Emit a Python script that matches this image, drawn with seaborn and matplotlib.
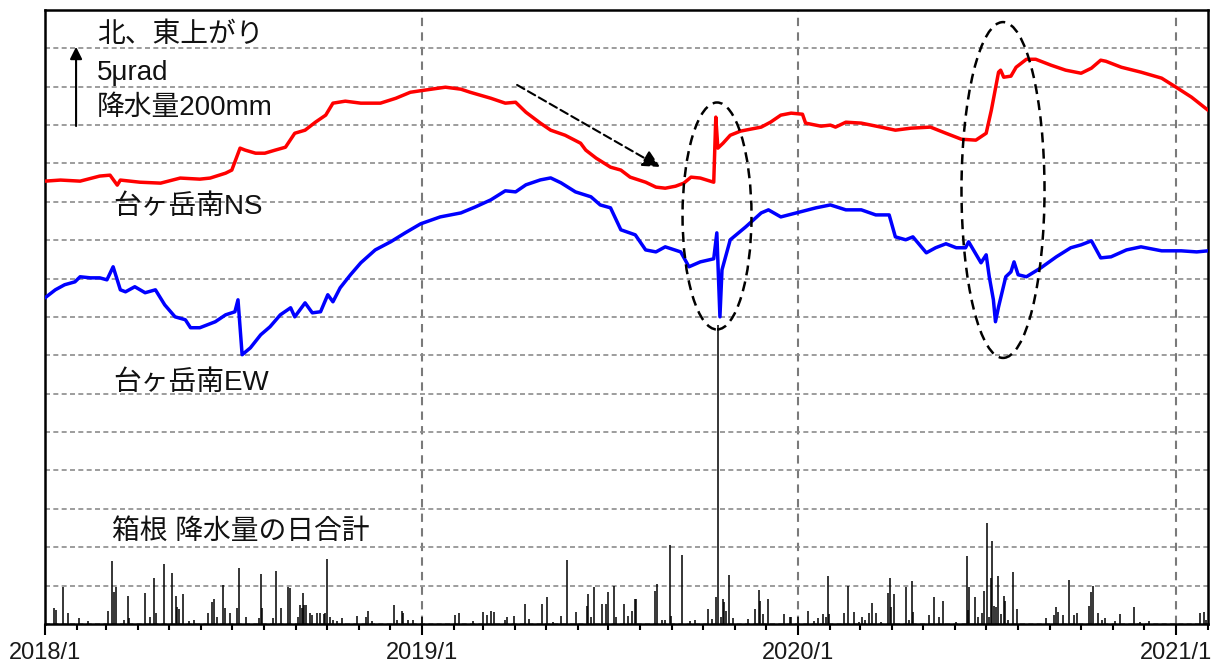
import numpy as np
import pandas as pd
import matplotlib
matplotlib.use("Agg")
import matplotlib.pyplot as plt
import matplotlib.dates as mdates
from matplotlib.patches import Ellipse
from matplotlib.ticker import FuncFormatter, MultipleLocator
import seaborn as sns

# 台ヶ岳南 NS tilt, urad relative to 2018/1/1
ns_dates = ["2018-01-01", "2018-01-16", "2018-02-04", "2018-02-23", "2018-03-05", "2018-03-12", "2018-03-15", "2018-04-03",
            "2018-04-23", "2018-05-12", "2018-05-31", "2018-06-10", "2018-06-25", "2018-07-01", "2018-07-09", "2018-07-14",
            "2018-07-24", "2018-08-02", "2018-08-12", "2018-08-22", "2018-08-31", "2018-09-10", "2018-09-20", "2018-09-30",
            "2018-10-07", "2018-10-19", "2018-11-03", "2018-11-22", "2018-12-07", "2018-12-21", "2018-12-31", "2019-01-24",
            "2019-02-08", "2019-02-17", "2019-03-09", "2019-03-23", "2019-04-02", "2019-04-12", "2019-04-26", "2019-05-06",
            "2019-05-20", "2019-06-04", "2019-06-09", "2019-06-19", "2019-07-03", "2019-07-13", "2019-07-22", "2019-08-06",
            "2019-08-16", "2019-08-25", "2019-09-04", "2019-09-12", "2019-09-19", "2019-09-28", "2019-10-11", "2019-10-13",
            "2019-10-15", "2019-10-20", "2019-10-27", "2019-11-06", "2019-11-16", "2019-11-26", "2019-12-05", "2019-12-15",
            "2019-12-25", "2020-01-05", "2020-01-08", "2020-01-23", "2020-02-01", "2020-02-06", "2020-02-16", "2020-03-02",
            "2020-03-21", "2020-04-04", "2020-04-19", "2020-05-08", "2020-05-23", "2020-06-07", "2020-06-21", "2020-07-01",
            "2020-07-06", "2020-07-13", "2020-07-15", "2020-07-18", "2020-07-25", "2020-07-30", "2020-08-09", "2020-08-18",
            "2020-09-02", "2020-09-16", "2020-10-01", "2020-10-11", "2020-10-20", "2020-10-25", "2020-11-09", "2020-11-28",
            "2020-12-18", "2021-01-01", "2021-01-16", "2021-02-01"]
ns_urad = [0.00, 0.07, 0.00, 0.33, 0.39, -0.26, 0.07, -0.07,
           -0.13, 0.20, 0.13, 0.20, 0.52, 0.72, 2.15, 2.02,
           1.82, 1.82, 2.02, 2.21, 3.12, 3.32, 3.84, 4.30,
           5.08, 5.21, 5.08, 5.08, 5.40, 5.79, 5.89, 6.12,
           5.99, 5.79, 5.40, 5.08, 5.14, 4.49, 3.78, 3.32,
           2.99, 2.47, 2.02, 1.50, 0.91, 0.72, 0.26, -0.07,
           -0.39, -0.46, -0.33, -0.13, 0.26, 0.20, -0.07, 4.17,
           2.15, 2.47, 2.99, 3.26, 3.39, 3.52, 3.84, 4.30,
           4.43, 4.36, 3.78, 3.58, 3.65, 3.52, 3.84, 3.78,
           3.52, 3.32, 3.45, 3.52, 3.12, 2.73, 2.67, 3.12,
           4.62, 7.10, 7.23, 6.77, 6.84, 7.42, 7.94, 7.94,
           7.55, 7.23, 7.03, 7.36, 7.88, 7.81, 7.42, 7.10,
           6.71, 6.12, 5.47, 4.62]

# 台ヶ岳南 EW tilt, urad relative to 2018/1/1
ew_dates = ["2018-01-01", "2018-01-11", "2018-01-20", "2018-01-30", "2018-02-04", "2018-02-14", "2018-02-23", "2018-03-02",
            "2018-03-08", "2018-03-15", "2018-03-20", "2018-03-29", "2018-04-08", "2018-04-18", "2018-04-27", "2018-05-07",
            "2018-05-17", "2018-05-22", "2018-05-31", "2018-06-15", "2018-06-25", "2018-07-04", "2018-07-07", "2018-07-11",
            "2018-07-19", "2018-07-29", "2018-08-07", "2018-08-17", "2018-08-27", "2018-08-31", "2018-09-10", "2018-09-17",
            "2018-09-25", "2018-10-02", "2018-10-07", "2018-10-14", "2018-10-24", "2018-11-03", "2018-11-17", "2018-12-02",
            "2018-12-16", "2018-12-31", "2019-01-19", "2019-02-08", "2019-02-22", "2019-03-09", "2019-03-23", "2019-04-02",
            "2019-04-12", "2019-04-26", "2019-05-06", "2019-05-16", "2019-05-30", "2019-06-14", "2019-06-23", "2019-07-03",
            "2019-07-13", "2019-07-27", "2019-08-06", "2019-08-16", "2019-08-25", "2019-09-09", "2019-09-17", "2019-09-28",
            "2019-10-11", "2019-10-14", "2019-10-17", "2019-10-19", "2019-10-27", "2019-11-11", "2019-11-26", "2019-12-03",
            "2019-12-15", "2020-01-03", "2020-01-18", "2020-02-01", "2020-02-16", "2020-03-02", "2020-03-16", "2020-03-29",
            "2020-04-04", "2020-04-14", "2020-04-21", "2020-05-04", "2020-05-13", "2020-05-23", "2020-06-02", "2020-06-11",
            "2020-06-14", "2020-06-26", "2020-07-01", "2020-07-04", "2020-07-08", "2020-07-10", "2020-07-13", "2020-07-20",
            "2020-07-25", "2020-07-28", "2020-08-01", "2020-08-09", "2020-08-23", "2020-09-07", "2020-09-21", "2020-10-01",
            "2020-10-11", "2020-10-20", "2020-10-30", "2020-11-14", "2020-11-28", "2020-12-18", "2021-01-06", "2021-01-21",
            "2021-02-01"]
ew_urad = [0.00, 0.52, 0.85, 1.04, 1.37, 1.30, 1.30, 1.17,
           2.02, 0.52, 0.39, 0.72, 0.33, 0.52, -0.46, -1.24,
           -1.43, -1.95, -1.95, -1.56, -1.11, -0.91, -0.13, -3.71,
           -3.26, -2.41, -1.89, -1.11, -0.65, -1.24, -0.33, -0.98,
           -0.91, 0.20, -0.26, 0.65, 1.50, 2.28, 3.12, 3.65,
           4.23, 4.82, 5.27, 5.53, 5.92, 6.38, 6.97, 6.90,
           7.36, 7.68, 7.81, 7.49, 6.90, 6.58, 6.05, 5.86,
           4.43, 4.10, 3.12, 2.99, 3.32, 2.99, 2.02, 2.34,
           2.54, 4.23, -1.24, 1.82, 3.78, 4.62, 5.53, 5.73,
           5.27, 5.60, 5.86, 6.05, 5.73, 5.73, 5.40, 5.40,
           3.97, 3.78, 3.97, 2.93, 3.26, 3.52, 3.26, 3.26,
           3.65, 2.28, 2.80, 1.37, -0.13, -1.56, -0.59, 1.37,
           1.69, 2.34, 1.50, 1.37, 1.95, 2.67, 3.26, 3.45,
           3.71, 2.60, 2.67, 3.12, 3.32, 3.06, 3.06, 2.99,
           3.06]

# 箱根 daily precipitation, mm
rain_dates = ["2018-01-10", "2018-01-12", "2018-01-18", "2018-01-23", "2018-02-03", "2018-02-12", "2018-03-03", "2018-03-07",
              "2018-03-09", "2018-03-11", "2018-03-19", "2018-03-22", "2018-03-23", "2018-04-08", "2018-04-13", "2018-04-17",
              "2018-04-19", "2018-04-26", "2018-05-04", "2018-05-08", "2018-05-09", "2018-05-11", "2018-05-15", "2018-05-21",
              "2018-05-25", "2018-06-08", "2018-06-12", "2018-06-14", "2018-06-17", "2018-06-22", "2018-06-24", "2018-06-29",
              "2018-07-06", "2018-07-08", "2018-07-15", "2018-07-27", "2018-07-29", "2018-07-30", "2018-08-10", "2018-08-13",
              "2018-08-18", "2018-08-24", "2018-08-26", "2018-09-03", "2018-09-05", "2018-09-07", "2018-09-08", "2018-09-09",
              "2018-09-11", "2018-09-15", "2018-09-17", "2018-09-22", "2018-09-24", "2018-09-28", "2018-09-29", "2018-10-01",
              "2018-10-04", "2018-10-07", "2018-10-11", "2018-10-16", "2018-10-30", "2018-11-08", "2018-11-10", "2018-11-14",
              "2018-12-05", "2018-12-08", "2018-12-13", "2018-12-14", "2018-12-19", "2018-12-24",
              "2019-01-01", "2019-02-02", "2019-02-06", "2019-02-20", "2019-03-01", "2019-03-05", "2019-03-09", "2019-03-12",
              "2019-03-23", "2019-03-25", "2019-03-31", "2019-04-11", "2019-04-15", "2019-04-28", "2019-05-02", "2019-05-08",
              "2019-05-16", "2019-05-22", "2019-05-31", "2019-06-10", "2019-06-11", "2019-06-14", "2019-06-17", "2019-06-25",
              "2019-06-29", "2019-07-01", "2019-07-06", "2019-07-08", "2019-07-16", "2019-07-20", "2019-07-24", "2019-07-27",
              "2019-07-28", "2019-08-15", "2019-08-17", "2019-08-22", "2019-08-25", "2019-08-30", "2019-08-31", "2019-09-10",
              "2019-09-18", "2019-09-23", "2019-10-05", "2019-10-09", "2019-10-13", "2019-10-15", "2019-10-18", "2019-10-20",
              "2019-10-21", "2019-10-23", "2019-10-26", "2019-10-30", "2019-11-13", "2019-11-20", "2019-11-24", "2019-11-25",
              "2019-11-28", "2019-12-03", "2019-12-18", "2019-12-24", "2019-12-25",
              "2020-01-01", "2020-01-10", "2020-01-16", "2020-01-20", "2020-01-25", "2020-01-28", "2020-01-30", "2020-01-31",
              "2020-02-14", "2020-02-18", "2020-02-24", "2020-02-29", "2020-03-03", "2020-03-06", "2020-03-09", "2020-03-12",
              "2020-03-16", "2020-03-21", "2020-03-28", "2020-03-30", "2020-03-31", "2020-04-03", "2020-04-14", "2020-04-17",
              "2020-04-20", "2020-04-21", "2020-05-07", "2020-05-11", "2020-05-16", "2020-05-20", "2020-06-02", "2020-06-12",
              "2020-06-13", "2020-06-14", "2020-06-20", "2020-06-23", "2020-06-27", "2020-06-29", "2020-07-02", "2020-07-04",
              "2020-07-06", "2020-07-07", "2020-07-09", "2020-07-11", "2020-07-12", "2020-07-15", "2020-07-18", "2020-07-19",
              "2020-07-22", "2020-07-27", "2020-07-31", "2020-08-28", "2020-09-05", "2020-09-07", "2020-09-09", "2020-09-13",
              "2020-09-19", "2020-09-24", "2020-09-27", "2020-10-09", "2020-10-11", "2020-10-13", "2020-10-17", "2020-10-21",
              "2020-10-24", "2020-11-03", "2020-11-08", "2020-11-21", "2020-11-27", "2020-12-06",
              "2021-01-24", "2021-01-28", "2021-01-30"]
rain_mm = [42, 36, 96, 28, 15, 8, 35, 165,
           84, 97, 10, 74, 15, 82, 18, 119,
           28, 155, 132, 74, 45, 40, 78, 8,
           10, 28, 58, 65, 18, 101, 42, 28,
           42, 145, 18, 15, 129, 42, 15, 139,
           42, 96, 95, 18, 49, 42, 82, 49,
           50, 28, 23, 28, 28, 25, 28, 169,
           18, 10, 8, 15, 20, 18, 35, 8,
           49, 10, 35, 28, 10, 10,
           19, 23, 29, 8, 30, 23, 35, 32,
           10, 17, 20, 51, 12, 51, 71, 5,
           20, 167, 30, 47, 77, 17, 96, 51,
           51, 84, 100, 19, 51, 20, 35, 65,
           65, 87, 104, 10, 10, 206, 20, 180,
           8, 10, 39, 12, 71, 780, 19, 64,
           58, 33, 128, 15, 12, 38, 88, 60,
           26, 65, 25, 17, 17,
           19, 34, 9, 15, 25, 19, 125, 25,
           28, 100, 30, 6, 17, 10, 28, 54,
           28, 4, 82, 119, 45, 77, 97, 10,
           112, 30, 23, 69, 19, 61, 6, 178,
           36, 97, 69, 19, 28, 87, 262, 19,
           121, 216, 48, 43, 125, 25, 72, 60,
           10, 135, 38, 15, 23, 45, 30, 23,
           115, 23, 28, 46, 84, 98, 28, 10,
           15, 8, 25, 45, 4, 8,
           28, 32, 10]

# 5 urad on the tilt scale = 200 mm on the rain scale
MM_PER_URAD = 40
NS_BASE = 1154
EW_BASE = 850

ns = pd.DataFrame({"date": pd.to_datetime(ns_dates), "y": NS_BASE + np.array(ns_urad) * MM_PER_URAD})
ew = pd.DataFrame({"date": pd.to_datetime(ew_dates), "y": EW_BASE + np.array(ew_urad) * MM_PER_URAD})
rain = pd.DataFrame({"date": pd.to_datetime(rain_dates), "mm": rain_mm})

sns.set_theme(style="ticks")
plt.rcParams["font.family"] = ["Liberation Sans", "Noto Sans CJK JP", "DejaVu Sans"]

fig = plt.figure(figsize=(12.2, 6.66), dpi=100)
ax = fig.add_axes([0.0369, 0.0631, 0.9533, 0.9219])

ax.vlines(rain["date"], 0, rain["mm"], color="black", lw=1.1, zorder=3)
sns.lineplot(data=ns, x="date", y="y", color="#ff0000", lw=2.5, estimator=None, ax=ax, zorder=4)
sns.lineplot(data=ew, x="date", y="y", color="#0000ff", lw=2.5, estimator=None, ax=ax, zorder=4)

ax.set_xlim(pd.Timestamp("2018-01-01"), pd.Timestamp("2021-02-01"))
ax.set_ylim(0, 1600)
ax.set_xlabel("")
ax.set_ylabel("")

ax.xaxis.set_major_locator(mdates.YearLocator())
ax.xaxis.set_minor_locator(mdates.MonthLocator())
ax.xaxis.set_major_formatter(FuncFormatter(lambda v, p: f"{mdates.num2date(v).year}/{mdates.num2date(v).month}"))
ax.yaxis.set_major_locator(MultipleLocator(100))
ax.tick_params(axis="x", which="major", length=8, width=1.5, direction="out", labelsize=17, pad=5,
               color="black", labelcolor="#1a1a1a")
ax.tick_params(axis="x", which="minor", length=4, width=1.5, direction="out", color="black")
ax.tick_params(axis="y", left=False, labelleft=False)

ax.grid(axis="y", color="#8c8c8c", lw=1.2, ls=(0, (3, 2)))
ax.grid(axis="x", which="major", color="#7a7a7a", lw=1.5, ls=(0, (4, 3)))
ax.set_axisbelow(True)
for s in ax.spines.values():
    s.set_color("black")
    s.set_linewidth(1.8)

# annotations
fs = 20
ax.text(0.0447, 0.959, "北、東上がり", transform=ax.transAxes, fontsize=fs, va="center", ha="left", color="#111111")
ax.text(0.0447, 0.897, "5μrad", transform=ax.transAxes, fontsize=fs, va="center", ha="left", color="#111111")
ax.text(0.0447, 0.840, "降水量200mm", transform=ax.transAxes, fontsize=fs, va="center", ha="left", color="#111111")
ax.text(0.0585, 0.679, "台ヶ岳南NS", transform=ax.transAxes, fontsize=fs, va="center", ha="left", color="#111111")
ax.text(0.0585, 0.392, "台ヶ岳南EW", transform=ax.transAxes, fontsize=fs, va="center", ha="left", color="#111111")
ax.text(0.0576, 0.150, "箱根 降水量の日合計", transform=ax.transAxes, fontsize=fs, va="center", ha="left", color="#111111")

ax.annotate("", xy=(0.0267, 0.940), xytext=(0.0267, 0.811), xycoords="axes fraction",
            arrowprops=dict(arrowstyle="-|>", color="black", lw=1.5, mutation_scale=18, shrinkA=0, shrinkB=0))
ax.annotate("", xy=(0.5288, 0.7443), xytext=(0.4059, 0.8779), xycoords="axes fraction",
            arrowprops=dict(arrowstyle="-|>", color="black", lw=1.5, ls=(0, (4, 2)), mutation_scale=26,
                            shrinkA=0, shrinkB=0))

for cx, cy, w, h in [(0.5778, 0.6645, 0.0593, 0.3697), (0.8237, 0.7068, 0.0714, 0.547)]:
    ax.add_patch(Ellipse((cx, cy), w, h, transform=ax.transAxes, fill=False, ec="black",
                         lw=1.8, ls=(0, (4, 2.5)), zorder=5))

fig.savefig("out.png", dpi=100)
